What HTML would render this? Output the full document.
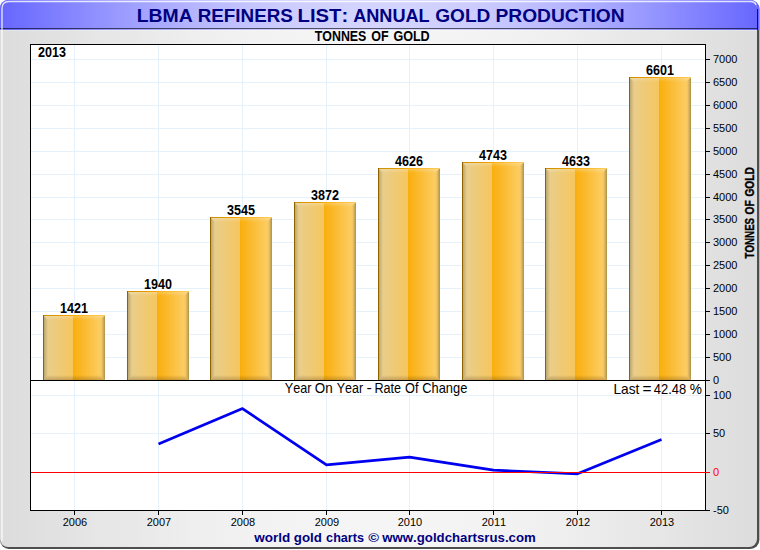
<!DOCTYPE html>
<html><head><meta charset="utf-8">
<style>
html,body{margin:0;padding:0;background:#fff;}
body{width:760px;height:550px;overflow:hidden;font-family:"Liberation Sans",sans-serif;}
svg{display:block}
text{font-family:"Liberation Sans",sans-serif;font-kerning:none;}
</style></head><body>
<svg width="760" height="550" viewBox="0 0 760 550">
<defs>

<linearGradient id="bg" x1="0" x2="1" y1="0" y2="0"><stop offset="0.0000" stop-color="#dcdcdc"/><stop offset="0.0417" stop-color="#dfdfdf"/><stop offset="0.0833" stop-color="#e2e2e2"/><stop offset="0.1250" stop-color="#e6e6e6"/><stop offset="0.1667" stop-color="#e8e8e8"/><stop offset="0.2083" stop-color="#ebebeb"/><stop offset="0.2500" stop-color="#eeeeee"/><stop offset="0.2917" stop-color="#f0f0f0"/><stop offset="0.3333" stop-color="#f2f2f2"/><stop offset="0.3750" stop-color="#f3f3f3"/><stop offset="0.4167" stop-color="#f4f4f4"/><stop offset="0.4583" stop-color="#f5f5f5"/><stop offset="0.5000" stop-color="#f5f5f5"/><stop offset="0.5417" stop-color="#f5f5f5"/><stop offset="0.5833" stop-color="#f4f4f4"/><stop offset="0.6250" stop-color="#f3f3f3"/><stop offset="0.6667" stop-color="#f2f2f2"/><stop offset="0.7083" stop-color="#f0f0f0"/><stop offset="0.7500" stop-color="#eeeeee"/><stop offset="0.7917" stop-color="#ebebeb"/><stop offset="0.8333" stop-color="#e8e8e8"/><stop offset="0.8750" stop-color="#e6e6e6"/><stop offset="0.9167" stop-color="#e2e2e2"/><stop offset="0.9583" stop-color="#dfdfdf"/><stop offset="1.0000" stop-color="#dcdcdc"/></linearGradient>
<linearGradient id="ttl" x1="0" x2="1" y1="0" y2="0"><stop offset="0.0000" stop-color="#6666ff"/><stop offset="0.0417" stop-color="#7474ff"/><stop offset="0.0833" stop-color="#8282ff"/><stop offset="0.1250" stop-color="#9090ff"/><stop offset="0.1667" stop-color="#9d9dff"/><stop offset="0.2083" stop-color="#a9a9ff"/><stop offset="0.2500" stop-color="#b4b4ff"/><stop offset="0.2917" stop-color="#bdbdff"/><stop offset="0.3333" stop-color="#c5c5ff"/><stop offset="0.3750" stop-color="#ccccff"/><stop offset="0.4167" stop-color="#d0d0ff"/><stop offset="0.4583" stop-color="#d3d3ff"/><stop offset="0.5000" stop-color="#d4d4ff"/><stop offset="0.5417" stop-color="#d3d3ff"/><stop offset="0.5833" stop-color="#d0d0ff"/><stop offset="0.6250" stop-color="#ccccff"/><stop offset="0.6667" stop-color="#c5c5ff"/><stop offset="0.7083" stop-color="#bdbdff"/><stop offset="0.7500" stop-color="#b4b4ff"/><stop offset="0.7917" stop-color="#a9a9ff"/><stop offset="0.8333" stop-color="#9d9dff"/><stop offset="0.8750" stop-color="#9090ff"/><stop offset="0.9167" stop-color="#8282ff"/><stop offset="0.9583" stop-color="#7474ff"/><stop offset="1.0000" stop-color="#6666ff"/></linearGradient>
<linearGradient id="bl" x1="0" x2="1"><stop offset="0" stop-color="#e6cf93"/><stop offset="1" stop-color="#f6c65e"/></linearGradient>
<linearGradient id="br" x1="0" x2="1"><stop offset="0" stop-color="#f9ae0c"/><stop offset="1" stop-color="#fdd272"/></linearGradient>
<linearGradient id="bvL" x1="0" x2="1"><stop offset="0" stop-color="#3a2a00" stop-opacity="0.30"/><stop offset="1" stop-color="#402000" stop-opacity="0"/></linearGradient>
<linearGradient id="bvR" x1="0" x2="1"><stop offset="0" stop-color="#303018" stop-opacity="0"/><stop offset="0.35" stop-color="#303018" stop-opacity="0.06"/><stop offset="1" stop-color="#303018" stop-opacity="0.40"/></linearGradient>
<linearGradient id="bvT" x1="0" x2="0" y1="0" y2="1"><stop offset="0" stop-color="#fff" stop-opacity="0.28"/><stop offset="1" stop-color="#fff" stop-opacity="0"/></linearGradient>
<linearGradient id="bvB" x1="0" x2="0" y1="0" y2="1"><stop offset="0" stop-color="#402000" stop-opacity="0"/><stop offset="1" stop-color="#402000" stop-opacity="0.25"/></linearGradient>
<linearGradient id="tl" x1="0" x2="1"><stop offset="0" stop-color="#c88c00"/><stop offset="0.42" stop-color="#f0a200"/><stop offset="0.5" stop-color="#fab010"/><stop offset="1" stop-color="#fccc60"/></linearGradient>
<clipPath id="tclip"><rect x="0" y="0" width="760" height="30"/></clipPath>
<clipPath id="frame"><rect x="0" y="0" width="757" height="547" rx="8" ry="8"/></clipPath>
</defs>
<rect x="0" y="0" width="760" height="550" fill="#fff"/>
<rect x="0" y="0" width="759.4" height="549" rx="9" ry="9" fill="#4e4e4e"/>
<g clip-path="url(#tclip)"><rect x="0" y="0" width="759.4" height="549" rx="9" ry="9" fill="#6868ff"/></g>
<g clip-path="url(#frame)">
<rect x="0" y="0" width="760" height="550" fill="url(#bg)"/>
<rect x="0" y="0" width="760" height="30" fill="url(#ttl)"/>
<rect x="0" y="28" width="760" height="1" fill="#000" opacity="0.62"/>
<rect x="0" y="30" width="760" height="1" fill="#fff" opacity="0.25"/>
</g>
<rect x="757" y="9" width="1" height="21" fill="#14143c"/>
<path d="M2,541 V9 Q2,1.5 9,1.5 H750 Q755,1.5 756,5" fill="none" stroke="#fff" stroke-width="1.4" opacity="0.8"/>

<text transform="translate(136.70,21.90) scale(1.0206,1)" font-size="19" font-weight="bold" fill="#000080">LBMA</text>
<text transform="translate(197.64,21.90) scale(0.9920,1)" font-size="19" font-weight="bold" fill="#000080">REFINERS</text>
<text transform="translate(297.54,21.90) scale(1.0678,1)" font-size="19" font-weight="bold" fill="#000080">LIST:</text>
<text transform="translate(353.15,21.90) scale(0.9551,1)" font-size="19" font-weight="bold" fill="#000080">ANNUAL</text>
<text transform="translate(435.22,21.90) scale(1.0055,1)" font-size="19" font-weight="bold" fill="#000080">GOLD</text>
<text transform="translate(495.51,21.90) scale(1.0114,1)" font-size="19" font-weight="bold" fill="#000080">PRODUCTION</text>
<text transform="translate(314.76,40.80) scale(0.8849,1)" font-size="14" font-weight="bold" fill="#000">TONNES</text>
<text transform="translate(371.19,40.80) scale(0.8935,1)" font-size="14" font-weight="bold" fill="#000">OF</text>
<text transform="translate(393.38,40.80) scale(0.8987,1)" font-size="14" font-weight="bold" fill="#000">GOLD</text>
<rect x="30" y="44" width="676" height="467" fill="#fff"/>

<g shape-rendering="crispEdges" stroke="#e6f2fb" stroke-width="1">
<line x1="74.5" x2="74.5" y1="45" y2="510"/>
<line x1="158.5" x2="158.5" y1="45" y2="510"/>
<line x1="242.5" x2="242.5" y1="45" y2="510"/>
<line x1="326.5" x2="326.5" y1="45" y2="510"/>
<line x1="409.5" x2="409.5" y1="45" y2="510"/>
<line x1="493.5" x2="493.5" y1="45" y2="510"/>
<line x1="577.5" x2="577.5" y1="45" y2="510"/>
<line x1="661.5" x2="661.5" y1="45" y2="510"/>
<line x1="31" x2="705" y1="357.5" y2="357.5"/>
<line x1="31" x2="705" y1="334.5" y2="334.5"/>
<line x1="31" x2="705" y1="311.5" y2="311.5"/>
<line x1="31" x2="705" y1="288.5" y2="288.5"/>
<line x1="31" x2="705" y1="265.5" y2="265.5"/>
<line x1="31" x2="705" y1="242.5" y2="242.5"/>
<line x1="31" x2="705" y1="219.5" y2="219.5"/>
<line x1="31" x2="705" y1="197.5" y2="197.5"/>
<line x1="31" x2="705" y1="174.5" y2="174.5"/>
<line x1="31" x2="705" y1="151.5" y2="151.5"/>
<line x1="31" x2="705" y1="128.5" y2="128.5"/>
<line x1="31" x2="705" y1="105.5" y2="105.5"/>
<line x1="31" x2="705" y1="82.5" y2="82.5"/>
<line x1="31" x2="705" y1="59.5" y2="59.5"/>
<line x1="31" x2="705" y1="395.5" y2="395.5"/>
<line x1="31" x2="705" y1="433.5" y2="433.5"/>
</g>
<g>
<rect x="43" y="315.0" width="30" height="65.0" fill="url(#bl)"/>
<rect x="73" y="315.0" width="32" height="65.0" fill="url(#br)"/>
<polygon points="43,315.0 48,320.0 48,375.0 43,380.0" fill="url(#bvL)"/>
<polygon points="105,315.0 100,320.0 100,375.0 105,380.0" fill="url(#bvR)"/>
<polygon points="43,315.0 105,315.0 100,320.0 48,320.0" fill="url(#bvT)"/>
<polygon points="43,380.0 105,380.0 100,375.0 48,375.0" fill="url(#bvB)"/>
<rect x="43" y="315.0" width="62" height="1" fill="url(#tl)"/>
<rect x="43" y="315.0" width="1" height="65.0" fill="#8f6200"/>
</g>
<text transform="translate(60.00,313.00) scale(0.8990,1)" font-size="14" font-weight="bold" fill="#000">1421</text>
<g>
<rect x="127" y="291.0" width="30" height="89.0" fill="url(#bl)"/>
<rect x="157" y="291.0" width="32" height="89.0" fill="url(#br)"/>
<polygon points="127,291.0 132,296.0 132,375.0 127,380.0" fill="url(#bvL)"/>
<polygon points="189,291.0 184,296.0 184,375.0 189,380.0" fill="url(#bvR)"/>
<polygon points="127,291.0 189,291.0 184,296.0 132,296.0" fill="url(#bvT)"/>
<polygon points="127,380.0 189,380.0 184,375.0 132,375.0" fill="url(#bvB)"/>
<rect x="127" y="291.0" width="62" height="1" fill="url(#tl)"/>
<rect x="127" y="291.0" width="1" height="89.0" fill="#8f6200"/>
</g>
<text transform="translate(144.00,289.00) scale(0.8990,1)" font-size="14" font-weight="bold" fill="#000">1940</text>
<g>
<rect x="210" y="217.0" width="30" height="163.0" fill="url(#bl)"/>
<rect x="240" y="217.0" width="32" height="163.0" fill="url(#br)"/>
<polygon points="210,217.0 215,222.0 215,375.0 210,380.0" fill="url(#bvL)"/>
<polygon points="272,217.0 267,222.0 267,375.0 272,380.0" fill="url(#bvR)"/>
<polygon points="210,217.0 272,217.0 267,222.0 215,222.0" fill="url(#bvT)"/>
<polygon points="210,380.0 272,380.0 267,375.0 215,375.0" fill="url(#bvB)"/>
<rect x="210" y="217.0" width="62" height="1" fill="url(#tl)"/>
<rect x="210" y="217.0" width="1" height="163.0" fill="#8f6200"/>
</g>
<text transform="translate(227.00,215.00) scale(0.8990,1)" font-size="14" font-weight="bold" fill="#000">3545</text>
<g>
<rect x="294" y="202.0" width="30" height="178.0" fill="url(#bl)"/>
<rect x="324" y="202.0" width="32" height="178.0" fill="url(#br)"/>
<polygon points="294,202.0 299,207.0 299,375.0 294,380.0" fill="url(#bvL)"/>
<polygon points="356,202.0 351,207.0 351,375.0 356,380.0" fill="url(#bvR)"/>
<polygon points="294,202.0 356,202.0 351,207.0 299,207.0" fill="url(#bvT)"/>
<polygon points="294,380.0 356,380.0 351,375.0 299,375.0" fill="url(#bvB)"/>
<rect x="294" y="202.0" width="62" height="1" fill="url(#tl)"/>
<rect x="294" y="202.0" width="1" height="178.0" fill="#8f6200"/>
</g>
<text transform="translate(311.00,200.00) scale(0.8990,1)" font-size="14" font-weight="bold" fill="#000">3872</text>
<g>
<rect x="378" y="168.0" width="30" height="212.0" fill="url(#bl)"/>
<rect x="408" y="168.0" width="32" height="212.0" fill="url(#br)"/>
<polygon points="378,168.0 383,173.0 383,375.0 378,380.0" fill="url(#bvL)"/>
<polygon points="440,168.0 435,173.0 435,375.0 440,380.0" fill="url(#bvR)"/>
<polygon points="378,168.0 440,168.0 435,173.0 383,173.0" fill="url(#bvT)"/>
<polygon points="378,380.0 440,380.0 435,375.0 383,375.0" fill="url(#bvB)"/>
<rect x="378" y="168.0" width="62" height="1" fill="url(#tl)"/>
<rect x="378" y="168.0" width="1" height="212.0" fill="#8f6200"/>
</g>
<text transform="translate(395.00,166.00) scale(0.8990,1)" font-size="14" font-weight="bold" fill="#000">4626</text>
<g>
<rect x="462" y="162.0" width="30" height="218.0" fill="url(#bl)"/>
<rect x="492" y="162.0" width="32" height="218.0" fill="url(#br)"/>
<polygon points="462,162.0 467,167.0 467,375.0 462,380.0" fill="url(#bvL)"/>
<polygon points="524,162.0 519,167.0 519,375.0 524,380.0" fill="url(#bvR)"/>
<polygon points="462,162.0 524,162.0 519,167.0 467,167.0" fill="url(#bvT)"/>
<polygon points="462,380.0 524,380.0 519,375.0 467,375.0" fill="url(#bvB)"/>
<rect x="462" y="162.0" width="62" height="1" fill="url(#tl)"/>
<rect x="462" y="162.0" width="1" height="218.0" fill="#8f6200"/>
</g>
<text transform="translate(479.00,160.00) scale(0.8990,1)" font-size="14" font-weight="bold" fill="#000">4743</text>
<g>
<rect x="545" y="168.0" width="30" height="212.0" fill="url(#bl)"/>
<rect x="575" y="168.0" width="32" height="212.0" fill="url(#br)"/>
<polygon points="545,168.0 550,173.0 550,375.0 545,380.0" fill="url(#bvL)"/>
<polygon points="607,168.0 602,173.0 602,375.0 607,380.0" fill="url(#bvR)"/>
<polygon points="545,168.0 607,168.0 602,173.0 550,173.0" fill="url(#bvT)"/>
<polygon points="545,380.0 607,380.0 602,375.0 550,375.0" fill="url(#bvB)"/>
<rect x="545" y="168.0" width="62" height="1" fill="url(#tl)"/>
<rect x="545" y="168.0" width="1" height="212.0" fill="#8f6200"/>
</g>
<text transform="translate(562.00,166.00) scale(0.8990,1)" font-size="14" font-weight="bold" fill="#000">4633</text>
<g>
<rect x="629" y="77.0" width="30" height="303.0" fill="url(#bl)"/>
<rect x="659" y="77.0" width="32" height="303.0" fill="url(#br)"/>
<polygon points="629,77.0 634,82.0 634,375.0 629,380.0" fill="url(#bvL)"/>
<polygon points="691,77.0 686,82.0 686,375.0 691,380.0" fill="url(#bvR)"/>
<polygon points="629,77.0 691,77.0 686,82.0 634,82.0" fill="url(#bvT)"/>
<polygon points="629,380.0 691,380.0 686,375.0 634,375.0" fill="url(#bvB)"/>
<rect x="629" y="77.0" width="62" height="1" fill="url(#tl)"/>
<rect x="629" y="77.0" width="1" height="303.0" fill="#8f6200"/>
</g>
<text transform="translate(646.00,75.00) scale(0.8990,1)" font-size="14" font-weight="bold" fill="#000">6601</text>
<g shape-rendering="crispEdges">
<rect x="30" y="380" width="680" height="1" fill="#000"/>
</g>
<polyline points="158.5,444.0 242.5,408.6 326.5,464.9 409.5,457.1 493.5,470.1 577.5,473.8 661.5,439.4" fill="none" stroke="#0000f0" stroke-width="2.7" stroke-linejoin="round"/>
<rect x="30" y="472" width="676" height="1" fill="#ff0000" shape-rendering="crispEdges"/>
<g shape-rendering="crispEdges" fill="#000">
<rect x="30" y="44" width="676" height="1"/>
<rect x="30" y="510" width="680" height="1"/>
<rect x="30" y="44" width="1" height="467"/>
<rect x="705" y="44" width="1" height="467"/>
<rect x="74" y="510" width="1" height="5"/>
<rect x="158" y="510" width="1" height="5"/>
<rect x="242" y="510" width="1" height="5"/>
<rect x="326" y="510" width="1" height="5"/>
<rect x="409" y="510" width="1" height="5"/>
<rect x="493" y="510" width="1" height="5"/>
<rect x="577" y="510" width="1" height="5"/>
<rect x="661" y="510" width="1" height="5"/>
<rect x="705" y="380" width="5" height="1"/>
<rect x="705" y="357" width="5" height="1"/>
<rect x="705" y="334" width="5" height="1"/>
<rect x="705" y="311" width="5" height="1"/>
<rect x="705" y="288" width="5" height="1"/>
<rect x="705" y="265" width="5" height="1"/>
<rect x="705" y="242" width="5" height="1"/>
<rect x="705" y="219" width="5" height="1"/>
<rect x="705" y="197" width="5" height="1"/>
<rect x="705" y="174" width="5" height="1"/>
<rect x="705" y="151" width="5" height="1"/>
<rect x="705" y="128" width="5" height="1"/>
<rect x="705" y="105" width="5" height="1"/>
<rect x="705" y="82" width="5" height="1"/>
<rect x="705" y="59" width="5" height="1"/>
<rect x="705" y="395" width="5" height="1" fill="#000"/>
<rect x="705" y="433" width="5" height="1" fill="#000"/>
<rect x="705" y="472" width="5" height="1" fill="#ff0000"/>
<rect x="705" y="510" width="5" height="1" fill="#000"/>
</g>
<text x="75.0" y="526" font-size="11" text-anchor="middle" fill="#000">2006</text>
<text x="159.0" y="526" font-size="11" text-anchor="middle" fill="#000">2007</text>
<text x="243.0" y="526" font-size="11" text-anchor="middle" fill="#000">2008</text>
<text x="327.0" y="526" font-size="11" text-anchor="middle" fill="#000">2009</text>
<text x="410.0" y="526" font-size="11" text-anchor="middle" fill="#000">2010</text>
<text x="494.0" y="526" font-size="11" text-anchor="middle" fill="#000">2011</text>
<text x="578.0" y="526" font-size="11" text-anchor="middle" fill="#000">2012</text>
<text x="662.0" y="526" font-size="11" text-anchor="middle" fill="#000">2013</text>
<text x="713" y="384.3" font-size="11" fill="#000">0</text>
<text x="713" y="361.3" font-size="11" fill="#000">500</text>
<text x="713" y="338.3" font-size="11" fill="#000">1000</text>
<text x="713" y="315.3" font-size="11" fill="#000">1500</text>
<text x="713" y="292.3" font-size="11" fill="#000">2000</text>
<text x="713" y="269.3" font-size="11" fill="#000">2500</text>
<text x="713" y="246.3" font-size="11" fill="#000">3000</text>
<text x="713" y="223.3" font-size="11" fill="#000">3500</text>
<text x="713" y="201.3" font-size="11" fill="#000">4000</text>
<text x="713" y="178.3" font-size="11" fill="#000">4500</text>
<text x="713" y="155.3" font-size="11" fill="#000">5000</text>
<text x="713" y="132.3" font-size="11" fill="#000">5500</text>
<text x="713" y="109.3" font-size="11" fill="#000">6000</text>
<text x="713" y="86.3" font-size="11" fill="#000">6500</text>
<text x="713" y="63.3" font-size="11" fill="#000">7000</text>
<text x="713" y="399.3" font-size="11" fill="#000">100</text>
<text x="713" y="437.3" font-size="11" fill="#000">50</text>
<text x="713" y="476.3" font-size="11" fill="#ff0000">0</text>
<text x="713" y="514.3" font-size="11" fill="#000">-50</text>
<text transform="translate(38.00,56.90) scale(0.8990,1)" font-size="14" font-weight="bold" fill="#000">2013</text>
<text transform="translate(284.82,392.60) scale(0.9155,1)" font-size="13.8" font-weight="normal" fill="#000">Year</text>
<text transform="translate(314.76,392.60) scale(0.9728,1)" font-size="13.8" font-weight="normal" fill="#000">On</text>
<text transform="translate(336.73,392.60) scale(0.9050,1)" font-size="13.8" font-weight="normal" fill="#000">Year</text>
<text transform="translate(366.49,392.60) scale(1.1576,1)" font-size="13.8" font-weight="normal" fill="#000">-</text>
<text transform="translate(374.46,392.60) scale(0.9159,1)" font-size="13.8" font-weight="normal" fill="#000">Rate</text>
<text transform="translate(405.09,392.60) scale(0.9257,1)" font-size="13.8" font-weight="normal" fill="#000">Of</text>
<text transform="translate(422.25,392.60) scale(0.9335,1)" font-size="13.8" font-weight="normal" fill="#000">Change</text>
<text transform="translate(613.47,393.80) scale(0.9939,1)" font-size="13.8" font-weight="normal" fill="#000">Last</text>
<text transform="translate(642.55,393.80) scale(1.1186,1)" font-size="13.8" font-weight="normal" fill="#000">=</text>
<text transform="translate(653.80,393.80) scale(0.9370,1)" font-size="13.8" font-weight="normal" fill="#000">42.48</text>
<text transform="translate(689.71,393.80) scale(0.9923,1)" font-size="13.8" font-weight="normal" fill="#000">%</text>
<g transform="translate(754.2,0) rotate(-90)" stroke="#000" stroke-width="0.35">
<text transform="translate(-258.41,0.00) scale(0.8117,1)" font-size="12" font-weight="bold" fill="#000">TONNES</text>
<text transform="translate(-214.42,0.00) scale(0.8581,1)" font-size="12" font-weight="bold" fill="#000">OF</text>
<text transform="translate(-196.62,0.00) scale(0.8524,1)" font-size="12" font-weight="bold" fill="#000">GOLD</text>
</g>
<text transform="translate(254.34,541.80) scale(0.9941,1)" font-size="13.6" font-weight="bold" fill="#000080">world</text>
<text transform="translate(293.86,541.80) scale(0.9763,1)" font-size="13.6" font-weight="bold" fill="#000080">gold</text>
<text transform="translate(326.11,541.80) scale(0.9287,1)" font-size="13.6" font-weight="bold" fill="#000080">charts</text>
<text transform="translate(368.17,541.80) scale(1.0727,1)" font-size="13.6" font-weight="bold" fill="#000080">©</text>
<text transform="translate(382.24,541.80) scale(0.9724,1)" font-size="13.6" font-weight="bold" fill="#000080">www.goldchartsrus.com</text>
</svg>
</body></html>
